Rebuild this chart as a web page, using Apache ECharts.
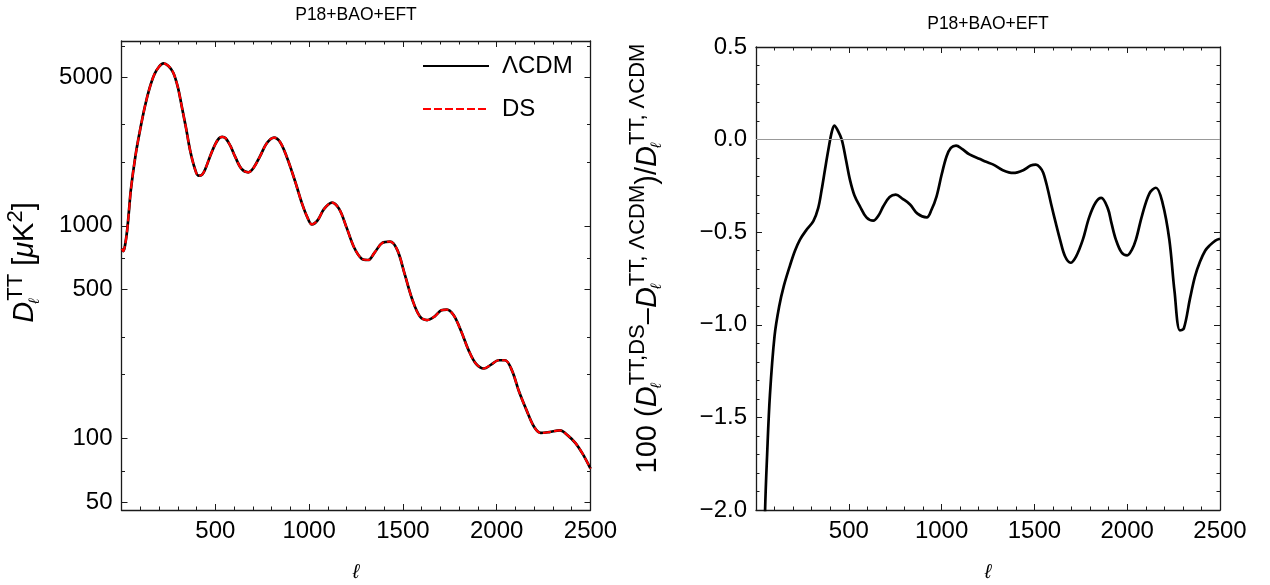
<!DOCTYPE html>
<html>
<head>
<meta charset="utf-8">
<script src="https://cdn.jsdelivr.net/npm/echarts@6/dist/echarts.min.js"></script>
<style>
  html, body { margin: 0; background: #fff; }
  #chart { width: 1270px; height: 585px; }
</style>
</head>
<body>
<div id="chart"></div>
<script>
// left panel: D_l^TT
const ell = [2, 10, 20, 30, 40, 50, 75, 100, 125, 150, 175, 200, 223, 250, 276, 300, 321, 345, 365, 390,
  410, 430, 450, 472, 500, 520, 537, 555, 580, 605, 640, 676, 705, 738, 775, 813, 845, 880, 910, 934,
  960, 990, 1015, 1045, 1080, 1122, 1160, 1200, 1240, 1280, 1314, 1350, 1390, 1432, 1470, 1510, 1550,
  1590, 1629, 1670, 1705, 1735, 1770, 1810, 1850, 1890, 1932, 1970, 2010, 2044, 2080, 2120, 2160, 2200,
  2235, 2280, 2337, 2380, 2420, 2460, 2500];
const dttLcdm = [780, 760, 820, 950, 1180, 1480, 2150, 2850, 3650, 4450, 5150, 5600, 5810, 5650, 5250, 4500, 3650, 2850, 2280, 1870,
  1720, 1740, 1880, 2120, 2420, 2580, 2620, 2580, 2380, 2120, 1850, 1784, 1880, 2120, 2450, 2600, 2480, 2120, 1780, 1530,
  1290, 1100, 1015, 1060, 1200, 1285, 1200, 980, 790, 700, 690, 750, 830, 842, 770, 590, 450,
  375, 360, 375, 400, 403, 380, 320, 260, 224, 213, 222, 233, 233, 210, 165, 135, 113,
  106, 107, 109, 103, 95, 84, 72];
const dttDs = [780, 760, 820, 950, 1180, 1480, 2150, 2850, 3650, 4450, 5150, 5600, 5810, 5650, 5250, 4500, 3650, 2850, 2280, 1870,
  1720, 1740, 1880, 2120, 2420, 2580, 2620, 2580, 2380, 2120, 1850, 1784, 1880, 2120, 2450, 2600, 2480, 2120, 1780, 1530,
  1290, 1100, 1015, 1060, 1200, 1285, 1200, 980, 790, 700, 690, 750, 830, 842, 770, 590, 450,
  375, 360, 375, 400, 403, 380, 320, 260, 224, 213, 222, 233, 233, 210, 165, 135, 113,
  106, 107, 109, 103, 95, 84, 72];

// right panel: relative difference in percent
const ellDiff = [40, 49, 60, 75, 100, 125, 150, 183, 210, 237, 270, 309, 335, 354, 372, 390, 408, 422, 440, 462,
  485, 506, 530, 560, 595, 632, 660, 686, 720, 753, 790, 830, 870, 920, 945, 973, 1000, 1027, 1050, 1078,
  1110, 1150, 1207, 1240, 1279, 1330, 1386, 1440, 1480, 1508, 1530, 1548, 1570, 1593, 1615, 1638, 1665, 1695,
  1725, 1761, 1795, 1830, 1860, 1895, 1915, 1939, 1970, 2000, 2025, 2047, 2080, 2120, 2155, 2190, 2227, 2255,
  2284, 2305, 2338, 2365, 2392, 2420, 2446, 2475, 2500];
const diffPct = [-2.5, -2.0, -1.7, -1.38, -1.06, -0.9, -0.79, -0.68, -0.6, -0.54, -0.49, -0.44, -0.37, -0.27, -0.16, -0.054, 0.04, 0.076, 0.05, 0.0,
  -0.11, -0.216, -0.3, -0.36, -0.42, -0.438, -0.41, -0.36, -0.31, -0.297, -0.32, -0.35, -0.4, -0.42, -0.38, -0.306, -0.19, -0.09, -0.045, -0.032,
  -0.05, -0.08, -0.105, -0.12, -0.135, -0.165, -0.18, -0.165, -0.14, -0.135, -0.15, -0.18, -0.26, -0.36, -0.45, -0.54, -0.63, -0.665,
  -0.63, -0.54, -0.42, -0.34, -0.315, -0.37, -0.45, -0.54, -0.61, -0.625, -0.595, -0.54, -0.41, -0.29, -0.26, -0.34, -0.54, -0.82,
  -1.03, -1.02, -0.86, -0.74, -0.66, -0.6, -0.57, -0.545, -0.535];

const logMajor = [50, 100, 500, 1000, 5000];
const logMinor = [70, 200, 300, 700, 2000, 3000, 7000];
const panelTitle = 'P18+BAO+EFT';

const FONT = 'Liberation Sans';
const frameColor = '#1a1a1a';

function pairs(xs, ys) {
  return xs.map((x, i) => [x, ys[i]]);
}

const chart = echarts.init(document.getElementById('chart'));

// D with stacked sub/superscript, as in the axis labels
const nameRich = {
  d: { fontFamily: FONT, fontSize: 29, fontStyle: 'italic' },
  l: { fontFamily: FONT, fontSize: 15, fontStyle: 'italic', padding: [19, 0, 0, 0], width: 1 },
  s: { fontFamily: FONT, fontSize: 22, padding: [0, 0, 19, 0] },
  m: { fontFamily: FONT, fontSize: 29, fontStyle: 'italic' }
};

const baseX = (grid, pos, withLabels) => ({
  gridIndex: grid,
  type: 'value',
  position: pos,
  min: 0,
  max: 2500,
  interval: 500,
  axisLine: { onZero: false, lineStyle: { color: frameColor, width: 1.3 } },
  axisTick: { show: true, inside: true, length: 6, lineStyle: { color: frameColor, width: 1 } },
  minorTick: { show: true, splitNumber: 5, length: 3.5, lineStyle: { color: frameColor, width: 1 } },
  axisLabel: {
    show: withLabels, color: '#000', fontFamily: FONT, fontSize: 24, margin: 9,
    formatter: v => (v === 0 ? '' : String(v))
  },
  splitLine: { show: false },
  minorSplitLine: { show: false },
  name: withLabels ? 'ℓ' : '',
  nameLocation: 'middle',
  nameGap: 52,
  nameMoveOverlap: false,
  nameTextStyle: { fontFamily: FONT, fontSize: 20, fontStyle: 'italic', color: '#000' }
});

const logY = (pos, ticks, len, line, labels, name) => ({
  gridIndex: 0,
  type: 'log',
  logBase: 10,
  position: pos,
  min: 46,
  max: 7400,
  axisLine: { show: line, onZero: false, lineStyle: { color: frameColor, width: 1.3 } },
  axisTick: { show: true, inside: true, length: len, customValues: ticks, lineStyle: { color: frameColor, width: 1 } },
  axisLabel: {
    show: labels, customValues: ticks, color: '#000', fontFamily: FONT, fontSize: 24, margin: 9,
    formatter: v => String(Math.round(v))
  },
  splitLine: { show: false },
  name: name || '',
  nameLocation: 'middle',
  nameRotate: 90,
  nameGap: 76,
  nameMoveOverlap: false,
  nameTextStyle: { fontFamily: FONT, fontSize: 29, color: '#000', padding: [0, 0, 0, 26], rich: nameRich }
});

const diffY = (pos, labels, name) => ({
  gridIndex: 1,
  type: 'value',
  position: pos,
  min: -2,
  max: 0.5,
  interval: 0.5,
  axisLine: { onZero: false, lineStyle: { color: frameColor, width: 1.3 } },
  axisTick: { show: true, inside: true, length: 6, lineStyle: { color: frameColor, width: 1 } },
  minorTick: { show: true, splitNumber: 5, length: 3.5, lineStyle: { color: frameColor, width: 1 } },
  axisLabel: {
    show: labels, color: '#000', fontFamily: FONT, fontSize: 24, margin: 9,
    formatter: v => v.toFixed(1).replace('-', '\u2212')
  },
  splitLine: { show: false },
  name: name || '',
  nameLocation: 'middle',
  nameRotate: 90,
  nameGap: 88,
  nameMoveOverlap: false,
  nameTextStyle: { fontFamily: FONT, fontSize: 29, color: '#000', padding: [0, 0, 0, 40], rich: nameRich }
});

const leftName = '{d|D}{l|ℓ}{s|TT} [{m|μ}K{s|2}]';
const rightName = '100 ({d|D}{l|ℓ}{s|TT,DS}\u2013{d|D}{l|ℓ}{s|TT, \u039BCDM})/{d|D}{l|ℓ}{s|TT, \u039BCDM}';

chart.setOption({
  backgroundColor: '#fff',
  animation: false,
  grid: [
    { left: 121.5, width: 469, top: 41, height: 469, containLabel: false, outerBoundsMode: 'none' },
    { left: 756, width: 464, top: 47, height: 463, containLabel: false, outerBoundsMode: 'none' }
  ],
  graphic: [
    { type: 'text', x: 356, y: 15, style: { text: panelTitle, align: 'center', verticalAlign: 'middle', fontFamily: FONT, fontSize: 17.5, fill: '#000' } },
    { type: 'text', x: 988, y: 24, style: { text: panelTitle, align: 'center', verticalAlign: 'middle', fontFamily: FONT, fontSize: 17.5, fill: '#000' } }
  ],
  legend: {
    data: ['\u039BCDM', 'DS'],
    orient: 'vertical',
    left: 422,
    top: 54,
    padding: 0,
    itemWidth: 66,
    itemHeight: 14,
    itemGap: 19,
    itemStyle: { opacity: 0 },
    textStyle: { fontFamily: FONT, fontSize: 24, color: '#000', padding: [0, 0, 0, 8] }
  },
  xAxis: [
    baseX(0, 'bottom', true),
    baseX(0, 'top', false),
    baseX(1, 'bottom', true),
    baseX(1, 'top', false)
  ],
  yAxis: [
    logY('left', logMajor, 6, true, true, leftName),
    logY('left', logMinor, 3.5, false, false),
    logY('right', logMajor, 6, true, false),
    logY('right', logMinor, 3.5, false, false),
    diffY('left', true, rightName),
    diffY('right', false)
  ],
  series: [
    {
      name: '\u039BCDM',
      type: 'line',
      xAxisIndex: 0,
      yAxisIndex: 0,
      data: pairs(ell, dttLcdm),
      showSymbol: false,
      symbol: 'none',
      smooth: 0.35,
      lineStyle: { color: '#000', width: 2.7 },
      itemStyle: { color: '#000' },
      z: 2
    },
    {
      name: 'DS',
      type: 'line',
      xAxisIndex: 0,
      yAxisIndex: 0,
      data: pairs(ell, dttDs),
      showSymbol: false,
      symbol: 'none',
      smooth: 0.35,
      lineStyle: { color: '#ff0000', width: 2.2, type: [8, 3] },
      itemStyle: { color: '#ff0000' },
      z: 3
    },
    {
      name: 'diff',
      type: 'line',
      xAxisIndex: 2,
      yAxisIndex: 4,
      data: pairs(ellDiff, diffPct),
      showSymbol: false,
      symbol: 'none',
      smooth: 0.35,
      lineStyle: { color: '#000', width: 2.7 },
      markLine: {
        silent: true,
        symbol: ['none', 'none'],
        label: { show: false },
        lineStyle: { color: '#999', width: 1, type: 'solid' },
        data: [{ yAxis: 0 }]
      },
      z: 3
    }
  ]
});
</script>
</body>
</html>
